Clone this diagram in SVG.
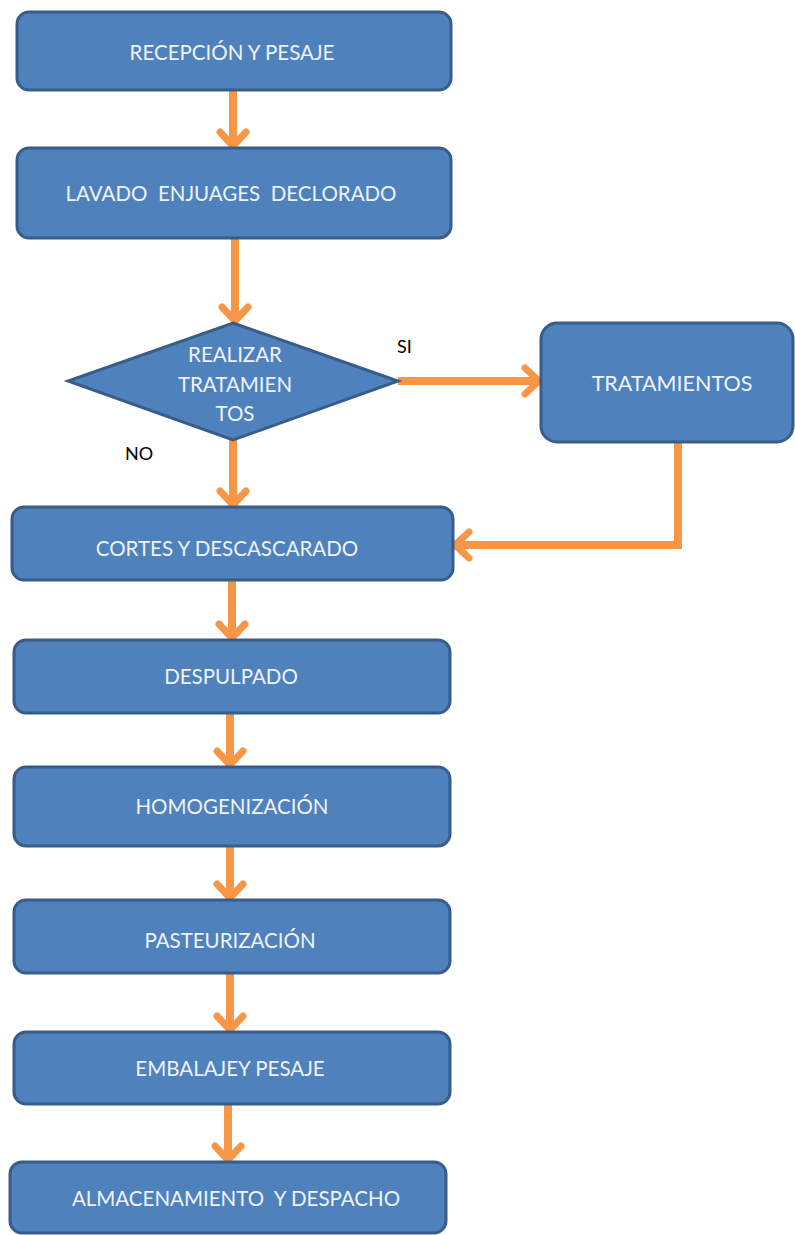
<svg xmlns="http://www.w3.org/2000/svg" width="795" height="1235" viewBox="0 0 795 1235">
<defs>
<style>
.box{fill:#4f81bd;stroke:#385d8a;stroke-width:3}
.t{fill:#eef3fa;font-family:Lato,"Open Sans","Liberation Sans",sans-serif;font-size:20.5px;text-anchor:middle;dominant-baseline:central;white-space:pre}
.lbl{fill:#000;font-family:Lato,"Liberation Sans",sans-serif;font-size:18px}
.c{fill:none;stroke:#f79646;stroke-width:8;marker-end:url(#ah)}
</style>
<marker id="ah" markerUnits="userSpaceOnUse" markerWidth="40" markerHeight="40" refX="30" refY="20" orient="auto">
<polyline points="16,7 30,20 16,33" fill="none" stroke="#f79646" stroke-width="7" stroke-linecap="round" stroke-linejoin="miter"/>
</marker>
</defs>
<rect width="795" height="1235" fill="#fff"/>
<g id="connectors">
<line class="c" x1="233" y1="90" x2="233" y2="146"/>
<line class="c" x1="235" y1="238" x2="235" y2="321"/>
<line class="c" x1="233" y1="440" x2="233" y2="505"/>
<line class="c" x1="398" y1="381" x2="539" y2="381"/>
<polyline class="c" points="678,442 678,545 455,545"/>
<line class="c" x1="232" y1="580" x2="232" y2="638"/>
<line class="c" x1="230" y1="713" x2="230" y2="765"/>
<line class="c" x1="230" y1="846" x2="230" y2="898"/>
<line class="c" x1="230" y1="973" x2="230" y2="1030"/>
<line class="c" x1="228" y1="1104" x2="228" y2="1160"/>
<text class="lbl" x="397" y="353">SI</text>
<text class="lbl" x="125" y="460">NO</text>
</g>
<g id="n1"><rect class="box" x="17" y="12" width="434" height="78" rx="12"/><text class="t" x="232" y="52">RECEPCIÓN Y PESAJE</text></g>
<g id="n2"><rect class="box" x="17" y="148" width="434" height="90" rx="12"/><text class="t" x="231" y="193" xml:space="preserve">LAVADO  ENJUAGES  DECLORADO</text></g>
<g id="n3"><polygon class="box" points="233,323 398,381 233,440 68,381"/>
<text class="t" x="235" y="354">REALIZAR</text><text class="t" x="235" y="384">TRATAMIEN</text><text class="t" x="235" y="413">TOS</text></g>
<g id="n4"><rect class="box" x="541" y="323" width="252" height="119" rx="16"/><text class="t" x="672" y="383" style="font-size:21.5px">TRATAMIENTOS</text></g>
<g id="n5"><rect class="box" x="12" y="507" width="441" height="73" rx="12"/><text class="t" x="227" y="548">CORTES Y DESCASCARADO</text></g>
<g id="n6"><rect class="box" x="14" y="640" width="436" height="73" rx="12"/><text class="t" x="231" y="676">DESPULPADO</text></g>
<g id="n7"><rect class="box" x="14" y="767" width="436" height="79" rx="12"/><text class="t" x="232" y="806">HOMOGENIZACIÓN</text></g>
<g id="n8"><rect class="box" x="14" y="900" width="436" height="73" rx="12"/><text class="t" x="230" y="940">PASTEURIZACIÓN</text></g>
<g id="n9"><rect class="box" x="14" y="1032" width="436" height="72" rx="12"/><text class="t" x="230" y="1068">EMBALAJEY PESAJE</text></g>
<g id="n10"><rect class="box" x="10" y="1162" width="436" height="71" rx="12"/><text class="t" x="236" y="1198" xml:space="preserve">ALMACENAMIENTO  Y DESPACHO</text></g>
</svg>
